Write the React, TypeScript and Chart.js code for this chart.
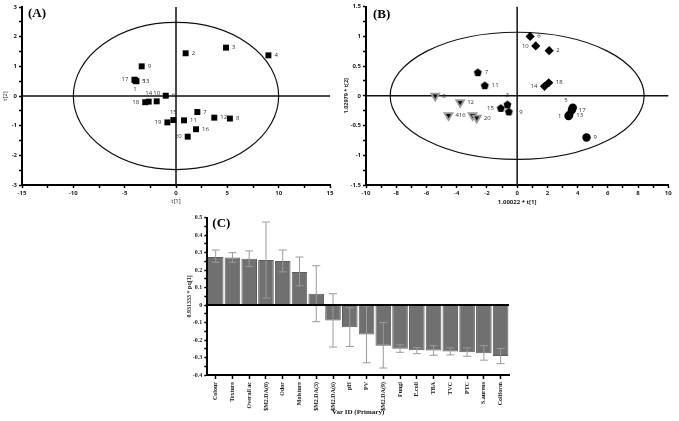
import React, { useEffect, useRef } from "react";
import { Chart, registerables } from "chart.js";
Chart.register(...registerables);

// ---------- Panel A data ----------
const idsA = ["1","2","3","4","5","6","7","8","9","10","11","12","13","14","15","16","17","18","19","20"];
const xA = [-4.0, 0.94, 4.87, 9.0, -3.9, -1.0, 2.08, 5.25, -3.34, -1.88, 0.78, 3.73, -3.85, -2.66, -0.26, 1.95, -4.05, -3.0, -0.84, 1.14];
const yA = [0.53, 1.44, 1.63, 1.37, 0.5, 0.01, -0.54, -0.76, 1.0, -0.18, -0.82, -0.73, 0.5, -0.19, -0.81, -1.12, 0.55, -0.21, -0.89, -1.37];
const posA = ["below","right","right","right","right","right","right","right","right","above","right","right","right","above","above","right","left","left","left","left"];

// ---------- Panel B data ----------
const diamondIds = ["6","10","2","14","18"];
const diamondX = [0.86, 1.23, 2.12, 1.81, 2.09];
const diamondY = [1.0, 0.84, 0.76, 0.16, 0.22];
const diamondPos = ["right","left","right","left","right"];

const pentaIds = ["7","11","3","15","19"];
const pentaX = [-2.6, -2.14, -0.64, -1.08, -0.55];
const pentaY = [0.39, 0.17, -0.15, -0.21, -0.27];
const pentaPos = ["right","right","above","left","right"];

const triIds = ["8","12","4","16","20"];
const triX = [-5.42, -3.77, -4.54, -2.95, -2.67];
const triY = [0.0, -0.11, -0.33, -0.33, -0.37];
const triPos = ["right","right","right","left","right"];

const circIds = ["5","17","1","13","9"];
const circX = [3.68, 3.62, 3.4, 3.45, 4.59];
const circY = [-0.2, -0.24, -0.34, -0.32, -0.7];
const circPos = ["aboveLeft","right","left","right","right"];

// ---------- Panel C data ----------
const varIds = ["Colour","Texture","Overall ac","$M2.DA(0)","Odor","Moisture","$M2.DA(3)","$M2.DA(6)","pH","PV","$M2.DA(9)","Fungi","E.coli","TBA","TVC","PTC","S.aureus","Coliform"];
const pqValues = [0.275, 0.272, 0.265, 0.258, 0.252, 0.19, 0.065, -0.088, -0.127, -0.168, -0.232, -0.25, -0.258, -0.26, -0.265, -0.27, -0.275, -0.292];
const errLow = [0.245, 0.245, 0.22, 0.04, 0.19, 0.11, -0.095, -0.24, -0.237, -0.33, -0.36, -0.27, -0.278, -0.287, -0.285, -0.293, -0.315, -0.335];
const errHigh = [0.315, 0.30, 0.31, 0.475, 0.315, 0.275, 0.225, 0.065, -0.015, -0.005, -0.1, -0.228, -0.243, -0.232, -0.245, -0.245, -0.232, -0.248];

const SANS = "'Open Sans', 'DejaVu Sans', sans-serif";
const SERIF = "'Liberation Serif', 'DejaVu Serif', serif";

const toPts = (xs: number[], ys: number[]) => xs.map((x, i) => ({ x, y: ys[i] }));

const pointLabels = {
  id: "pointLabels",
  afterDatasetsDraw(chart: any, _a: any, opts: any) {
    const ctx = chart.ctx;
    const off = opts.offset || 6;
    ctx.save();
    ctx.font = `6px ${SANS}`;
    ctx.fillStyle = "#333";
    ctx.textBaseline = "middle";
    chart.data.datasets.forEach((ds: any, di: number) => {
      const meta = chart.getDatasetMeta(di);
      if (!ds.pointIds) return;
      meta.data.forEach((el: any, i: number) => {
        const p = ds.labelPos[i];
        let x = el.x, y = el.y;
        if (p === "right") { ctx.textAlign = "left"; x += off; }
        else if (p === "left") { ctx.textAlign = "right"; x -= off; }
        else if (p === "above") { ctx.textAlign = "center"; y -= off + 2; }
        else if (p === "below") { ctx.textAlign = "center"; y += off + 3; }
        else if (p === "aboveLeft") { ctx.textAlign = "right"; x -= off - 2; y -= off; }
        ctx.fillText(ds.pointIds[i], x, y);
      });
    });
    ctx.restore();
  },
};

const crossEllipse = {
  id: "crossEllipse",
  beforeDatasetsDraw(chart: any, _a: any, opts: any) {
    const { ctx, chartArea, scales } = chart;
    const xs = scales.x, ys = scales.y;
    const cx = xs.getPixelForValue(0), cy = ys.getPixelForValue(0);
    ctx.save();
    ctx.strokeStyle = "#111";
    ctx.lineWidth = 1.5;
    ctx.beginPath();
    ctx.moveTo(cx, chartArea.top); ctx.lineTo(cx, chartArea.bottom);
    ctx.moveTo(chartArea.left, cy); ctx.lineTo(chartArea.right, cy);
    ctx.stroke();
    const rx = xs.getPixelForValue(opts.ex) - cx;
    const ry = cy - ys.getPixelForValue(opts.ey);
    ctx.lineWidth = 1.2;
    ctx.beginPath();
    ctx.ellipse(cx, cy, rx, ry, 0, 0, Math.PI * 2);
    ctx.stroke();
    ctx.restore();
  },
};

const panelTag = {
  id: "panelTag",
  afterDraw(chart: any, _a: any, opts: any) {
    const { ctx, chartArea } = chart;
    ctx.save();
    ctx.font = `bold 13px ${SERIF}`;
    ctx.fillStyle = "#000";
    ctx.textAlign = "left";
    ctx.textBaseline = "middle";
    ctx.fillText(opts.text, chartArea.left + opts.dx, chartArea.top + opts.dy);
    ctx.restore();
  },
};

const barExtras = {
  id: "barExtras",
  afterDatasetsDraw(chart: any) {
    const { ctx, chartArea, scales } = chart;
    const meta = chart.getDatasetMeta(0);
    ctx.save();
    ctx.strokeStyle = "#9a9a9a";
    ctx.lineWidth = 1;
    meta.data.forEach((el: any, i: number) => {
      const x = el.x;
      const y1 = scales.y.getPixelForValue(errLow[i]);
      const y2 = scales.y.getPixelForValue(errHigh[i]);
      ctx.beginPath();
      ctx.moveTo(x, y1); ctx.lineTo(x, y2);
      ctx.moveTo(x - 4, y1); ctx.lineTo(x + 4, y1);
      ctx.moveTo(x - 4, y2); ctx.lineTo(x + 4, y2);
      ctx.stroke();
    });
    const y0 = scales.y.getPixelForValue(0);
    ctx.strokeStyle = "#000";
    ctx.lineWidth = 2;
    ctx.beginPath();
    ctx.moveTo(chartArea.left, y0); ctx.lineTo(chartArea.right, y0);
    ctx.stroke();
    ctx.restore();
  },
};

function axisCommon(fontFamily: string, bold: boolean) {
  return {
    border: { display: true, color: "#000", width: 2 },
    grid: { drawOnChartArea: false, drawTicks: true, tickLength: 3, tickColor: "#000", tickWidth: 1.5 },
    ticks: { autoSkip: false, color: "#222", padding: 2, font: { size: 6, family: fontFamily, weight: bold ? "bold" : "normal" } },
  };
}

function makePentagon(r: number) {
  const c = document.createElement("canvas");
  const s = Math.ceil(r * 2) + 2;
  c.width = s; c.height = s;
  const g = c.getContext("2d")!;
  g.beginPath();
  for (let k = 0; k < 5; k++) {
    const a = -Math.PI / 2 + (k * 2 * Math.PI) / 5;
    const px = s / 2 + r * Math.cos(a), py = s / 2 + r * Math.sin(a);
    if (k === 0) g.moveTo(px, py); else g.lineTo(px, py);
  }
  g.closePath();
  g.fillStyle = "#000";
  g.fill();
  return c;
}

export default function App() {
  const refA = useRef<HTMLCanvasElement>(null);
  const refB = useRef<HTMLCanvasElement>(null);
  const refC = useRef<HTMLCanvasElement>(null);

  useEffect(() => {
    const a0 = axisCommon(SANS, true);
    const chartA = new Chart(refA.current!, {
      type: "scatter",
      data: {
        datasets: [{
          data: toPts(xA, yA),
          pointStyle: "rect",
          pointRadius: 4.2,
          backgroundColor: "#000",
          borderColor: "#000",
          borderWidth: 0,
          pointIds: idsA,
          labelPos: posA,
        } as any],
      },
      options: {
        responsive: false,
        animation: false,
        layout: { padding: { top: 7, right: 10, left: 0, bottom: 0 } },
        plugins: {
          legend: { display: false },
          tooltip: { enabled: false },
          crossEllipse: { ex: 10, ey: 2.48 },
          pointLabels: { offset: 6 },
          panelTag: { text: "(A)", dx: 6, dy: 7 },
        } as any,
        scales: {
          x: {
            ...a0, min: -15, max: 15,
            ticks: { ...a0.ticks, stepSize: 2.5, callback: (v: any) => (Number(v) % 5 === 0 ? String(v) : "") },
            title: { display: true, text: "t[1]", color: "#222", font: { size: 6, family: SANS }, padding: { top: 0, bottom: 5 } },
            afterFit: (s: any) => { s.height = 25; },
          },
          y: {
            ...a0, min: -3, max: 3,
            ticks: { ...a0.ticks, stepSize: 0.5, callback: (v: any) => (Number(v) % 1 === 0 ? String(v) : "") },
            title: { display: true, text: "t[2]", color: "#222", font: { size: 6, family: SANS }, padding: { top: 1.5, bottom: 0 } },
            afterFit: (s: any) => { s.width = 22; },
          },
        } as any,
      },
      plugins: [crossEllipse, pointLabels, panelTag],
    });

    const pent = makePentagon(4.2);
    const b0 = axisCommon(SANS, true);
    const chartB = new Chart(refB.current!, {
      type: "scatter",
      data: {
        datasets: [
          { data: toPts(diamondX, diamondY), pointStyle: "rectRot", pointRadius: 4.6, backgroundColor: "#000", borderWidth: 0, pointIds: diamondIds, labelPos: diamondPos } as any,
          { data: toPts(pentaX, pentaY), pointStyle: pent, pointRadius: 4.5, backgroundColor: "#000", borderWidth: 0, pointIds: pentaIds, labelPos: pentaPos } as any,
          { data: toPts(triX, triY), pointStyle: "triangle", rotation: 180, pointRadius: 4.6, backgroundColor: "#111", borderColor: "#9a9a9a", borderWidth: 1.8, pointIds: triIds, labelPos: triPos } as any,
          { data: toPts(circX, circY), pointStyle: "circle", pointRadius: 4.2, backgroundColor: "#000", borderWidth: 0, pointIds: circIds, labelPos: circPos } as any,
        ],
      },
      options: {
        responsive: false,
        animation: false,
        layout: { padding: { top: 6.7, right: 10.7, left: 0, bottom: 0 } },
        plugins: {
          legend: { display: false },
          tooltip: { enabled: false },
          crossEllipse: { ex: 8.4, ey: 1.07 },
          pointLabels: { offset: 7 },
          panelTag: { text: "(B)", dx: 7, dy: 8 },
        } as any,
        scales: {
          x: {
            ...b0, min: -10, max: 10,
            ticks: { ...b0.ticks, stepSize: 1, callback: (v: any) => (Number(v) % 2 === 0 ? String(v) : "") },
            title: { display: true, text: "1.00022 * t[1]", color: "#222", font: { size: 6, family: SANS, weight: "bold" }, padding: { top: 0, bottom: 4 } },
            afterFit: (s: any) => { s.height = 25; },
          },
          y: {
            ...b0, min: -1.5, max: 1.5,
            ticks: {
              ...b0.ticks, stepSize: 0.25,
              callback: (v: any) => {
                const n = Number(v);
                return Math.abs(n * 2 - Math.round(n * 2)) < 1e-6 ? String(Math.round(n * 100) / 100) : "";
              },
            },
            title: { display: true, text: "1.02979 * t[2]", color: "#222", font: { size: 5.5, family: SANS, weight: "bold" }, padding: { top: 3.5, bottom: 0 } },
            afterFit: (s: any) => { s.width = 26; },
          },
        } as any,
      },
      plugins: [crossEllipse, pointLabels, panelTag],
    });

    const c0 = axisCommon(SERIF, true);
    const chartC = new Chart(refC.current!, {
      type: "bar",
      data: {
        labels: varIds,
        datasets: [{
          data: pqValues,
          backgroundColor: "#707070",
          borderColor: "#5c5c5c",
          borderWidth: 1,
          barPercentage: 0.93,
          categoryPercentage: 1,
        }],
      },
      options: {
        responsive: false,
        animation: false,
        layout: { padding: { top: 12.7, right: 21, left: 0, bottom: 0 } },
        plugins: {
          legend: { display: false },
          tooltip: { enabled: false },
          panelTag: { text: "(C)", dx: 5, dy: 6 },
        } as any,
        scales: {
          x: {
            ...c0,
            grid: { ...c0.grid, offset: false, tickLength: 4 },
            ticks: { ...c0.ticks, maxRotation: 90, minRotation: 90, padding: 3 },
            title: { display: true, text: "Var ID (Primary)", color: "#111", font: { size: 7, family: SERIF, weight: "bold" }, padding: { top: 0, bottom: 5 } },
            afterFit: (s: any) => { s.height = 46; },
          },
          y: {
            ...c0, min: -0.4, max: 0.5,
            ticks: {
              ...c0.ticks, stepSize: 0.05,
              callback: (v: any) => {
                const n = Math.round(Number(v) * 100) / 100;
                if (Math.abs(n * 10 - Math.round(n * 10)) > 1e-6) return "";
                return n === 0 ? "0" : n.toFixed(1);
              },
            },
            title: { display: true, text: "0.931333 * pq[1]", color: "#222", font: { size: 6, family: SERIF, weight: "bold" }, padding: { top: 35.4, bottom: 0 } },
            afterFit: (s: any) => { s.width = 57.3; },
          },
        } as any,
      },
      plugins: [barExtras, panelTag],
    });

    return () => { chartA.destroy(); chartB.destroy(); chartC.destroy(); };
  }, []);

  return (
    <div style={{ position: "absolute", left: 0, top: 0, width: 679, height: 421, background: "#fff", overflow: "hidden" }}>
      <canvas ref={refA} width={340} height={210} style={{ position: "absolute", left: 0, top: 0 }} />
      <canvas ref={refB} width={339} height={210} style={{ position: "absolute", left: 340, top: 0 }} />
      <canvas ref={refC} width={380} height={216} style={{ position: "absolute", left: 150, top: 205 }} />
    </div>
  );
}
